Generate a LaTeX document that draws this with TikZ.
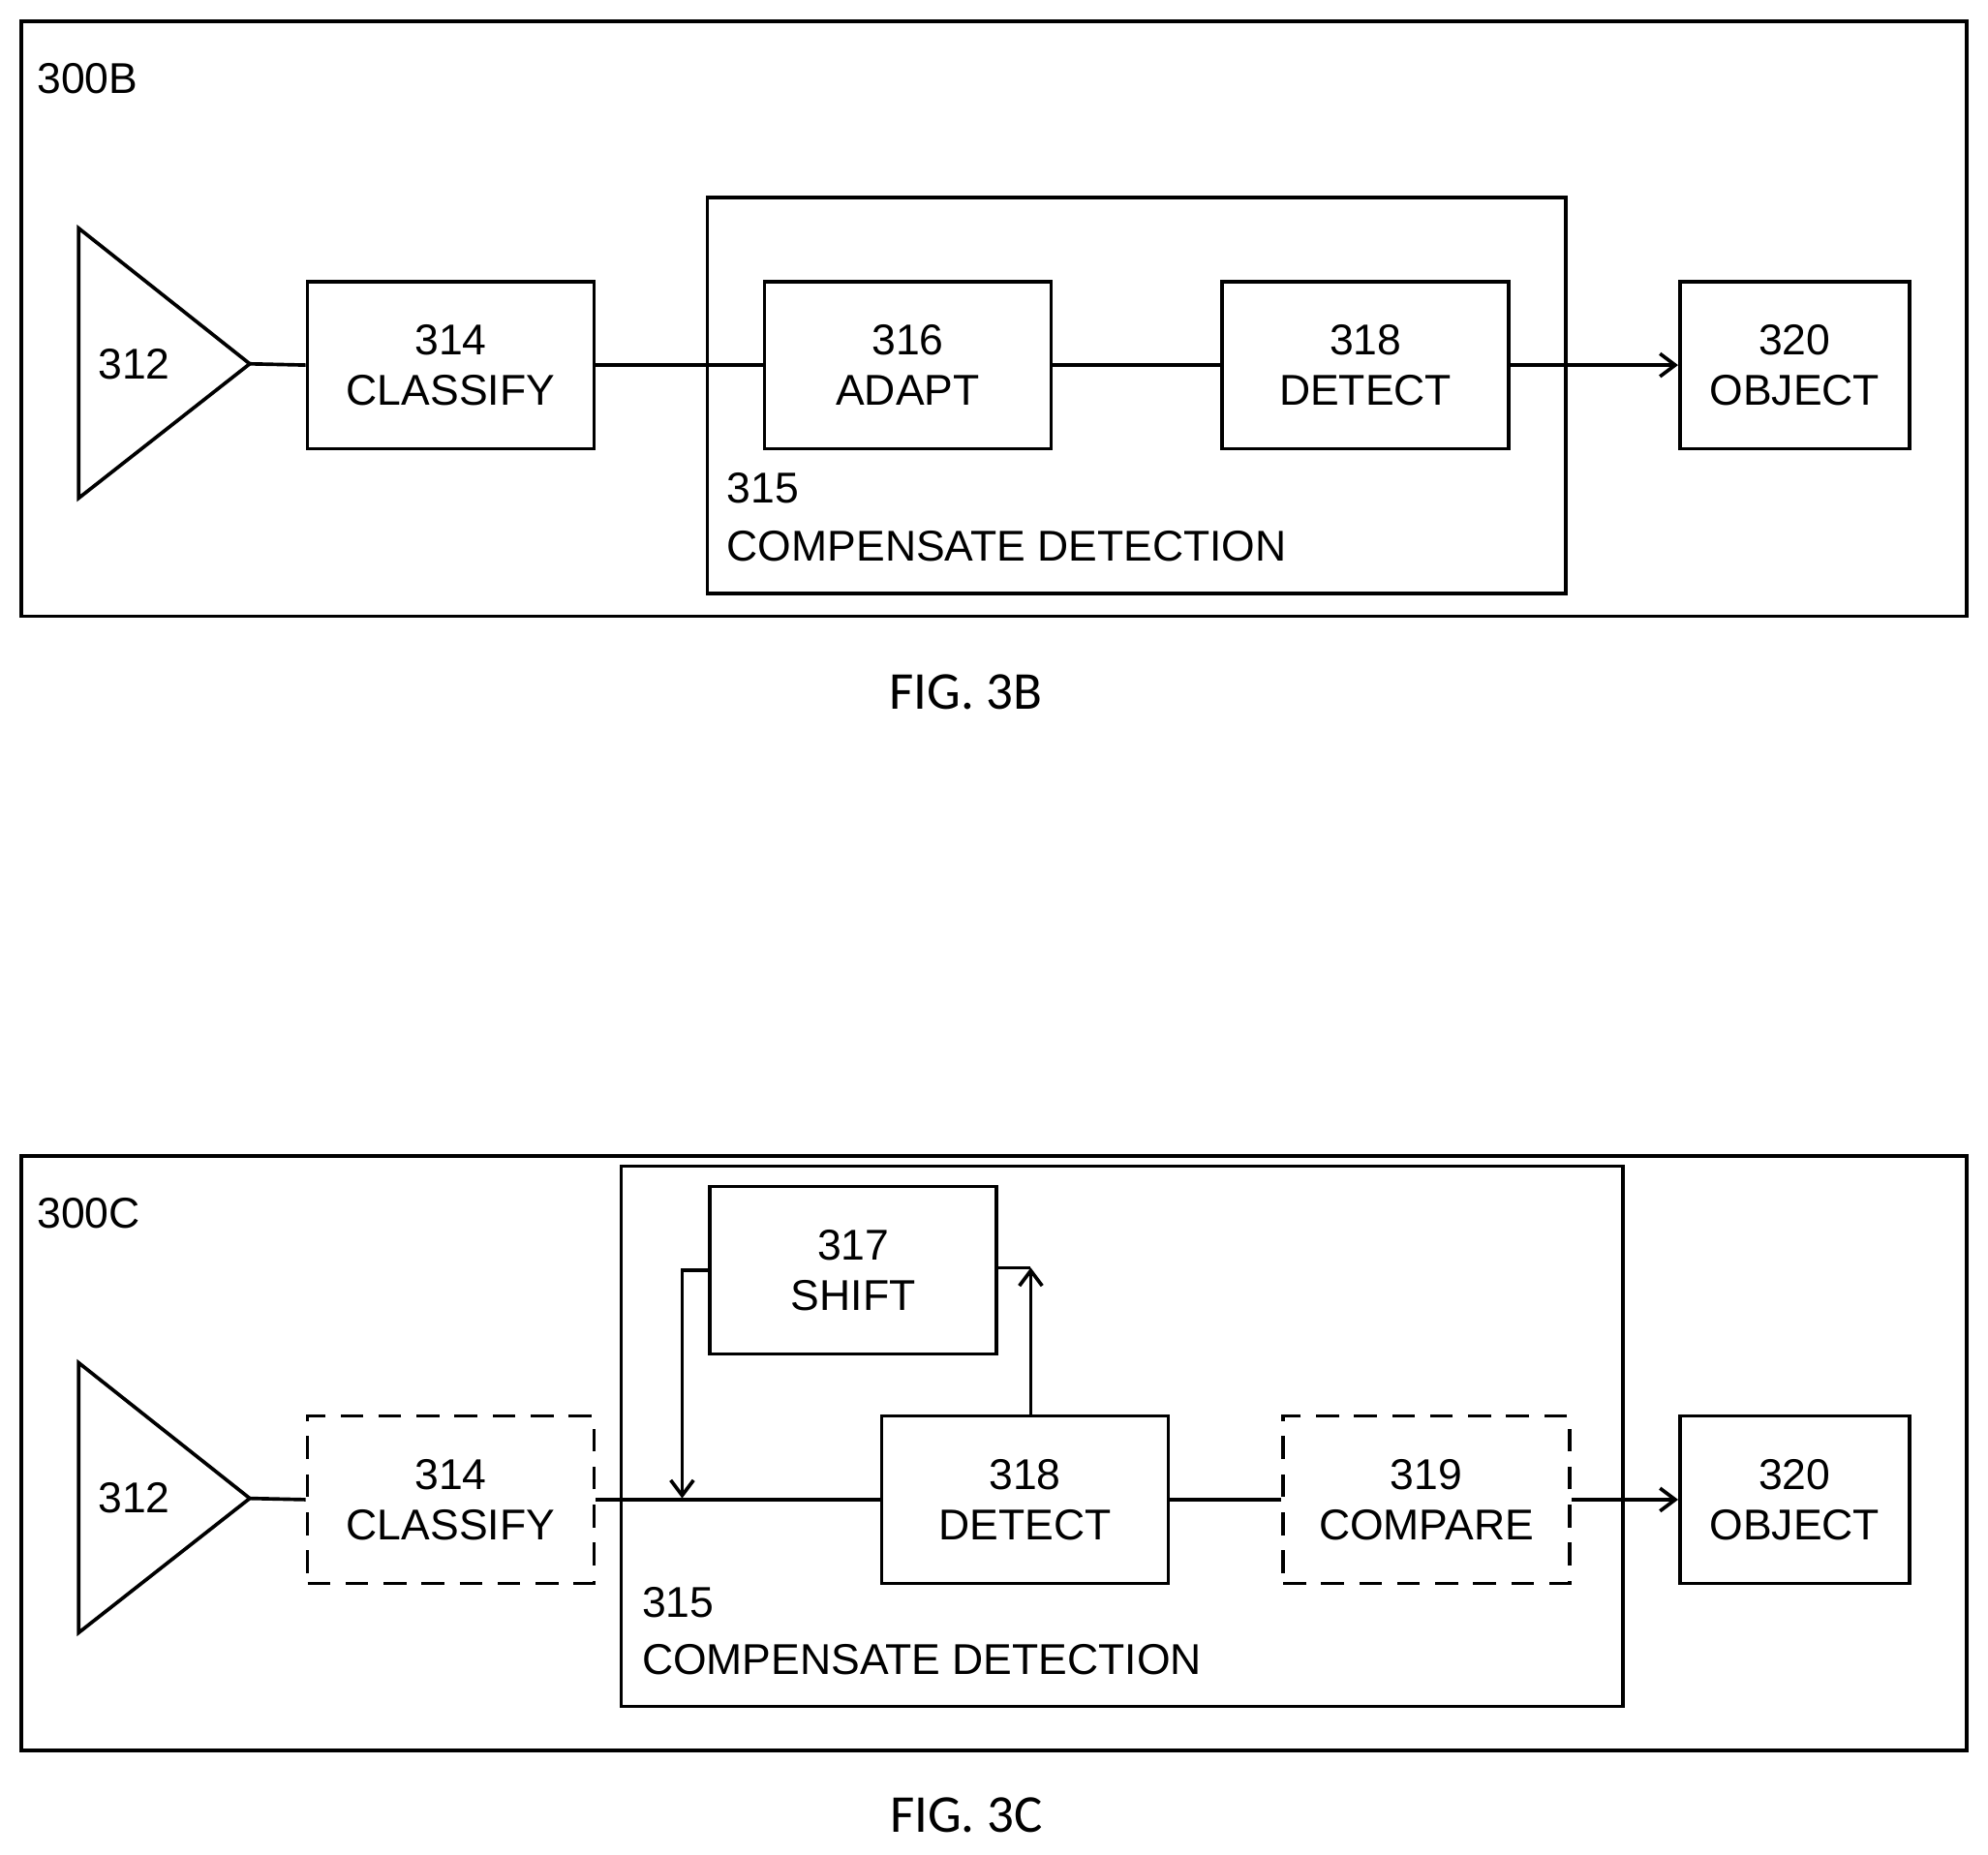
\documentclass[tikz,border=0pt]{standalone}
\usepackage{fontspec}
\setmainfont{Liberation Sans}
\newfontfamily\figfont{Carlito}
\usetikzlibrary{arrows.meta}
\begin{document}
\begin{tikzpicture}[x=0.5pt,y=-0.5pt,line width=1.4pt,
 box/.style={draw,minimum width=113pt,minimum height=66pt,align=center,font=\fontsize{17}{20}\selectfont,inner sep=0pt},
 lbl/.style={font=\fontsize{17}{20}\selectfont,anchor=west,inner sep=0pt},
 dsh/.style={dash pattern=on 9pt off 6pt},
 arr/.style={-{Straight Barb[length=6pt,width=9pt]}}]
\useasboundingbox (0,0) rectangle (1568,1463);
% 3B
\node[draw,minimum width=767pt,minimum height=234.5pt,inner sep=0pt] (fb) at (784,251.5) {};
\node[lbl] (l300b) at (28,62) {300B};
\node[draw,minimum width=338.5pt,minimum height=156pt,inner sep=0pt] (c315b) at (896.5,312) {};
\coordinate (t1a) at (62,180); \coordinate (t1b) at (62,393); \coordinate (t1c) at (197,287);
\draw (t1a) -- (t1b) -- (t1c) -- cycle;
\node[lbl] (l312b) at (76,287) {312};
\node[box] (b314) at (355.5,288) {314\\CLASSIFY};
\node[box] (b316) at (716,288) {316\\ADAPT};
\node[box] (b318) at (1077,288) {318\\DETECT};
\node[box,minimum width=90.5pt] (b320) at (1415.5,288) {320\\OBJECT};
\node[lbl] (l315b) at (572,385) {315};
\node[lbl] (l315bt) at (572,431) {COMPENSATE DETECTION};
\draw (t1c) -- (b314.west);
\draw (b314) -- (b316);
\draw (b316) -- (b318);
\draw[arr] (b318) -- (b320);
\node[font=\figfont\fontsize{21}{24}\selectfont] (f3b) at (762,546) {FIG. 3B};
% 3C
\node[draw,minimum width=767pt,minimum height=234.5pt,inner sep=0pt] (fc) at (784,1146.5) {};
\node[lbl] (l300c) at (28,957) {300C};
\node[draw,minimum width=395pt,minimum height=213pt,inner sep=0pt] (c315c) at (885,1133) {};
\coordinate (t2a) at (62,1075); \coordinate (t2b) at (62,1288); \coordinate (t2c) at (197,1182);
\draw (t2a) -- (t2b) -- (t2c) -- cycle;
\node[lbl] (l312c) at (76,1182) {312};
\node[box,dsh] (c314) at (355.5,1183) {314\\CLASSIFY};
\node[box] (c317) at (673,1002) {317\\SHIFT};
\node[box] (c318) at (808.5,1183) {318\\DETECT};
\node[box,dsh] (c319) at (1125,1183) {319\\COMPARE};
\node[box,minimum width=90.5pt] (c320) at (1415.5,1183) {320\\OBJECT};
\node[lbl] (l315c) at (505,1264) {315};
\node[lbl] (l315ct) at (505,1309) {COMPENSATE DETECTION};
\draw (t2c) -- (c314.west);
\draw (c314) -- (c318);
\draw (c318) -- (c319);
\draw[arr] (c319) -- (c320);
\coordinate (up) at (813,1000);
\draw[arr] (c318.north -| up) -- (up);
\draw (c317.east |- up) -- (up);
\coordinate (lk) at (538,1002);
\coordinate (dn) at (538,1182);
\draw[arr] (c317.west |- lk) -- (lk) -- (dn);
\node[font=\figfont\fontsize{21}{24}\selectfont] (f3c) at (762,1432) {FIG. 3C};
\end{tikzpicture}
\end{document}
